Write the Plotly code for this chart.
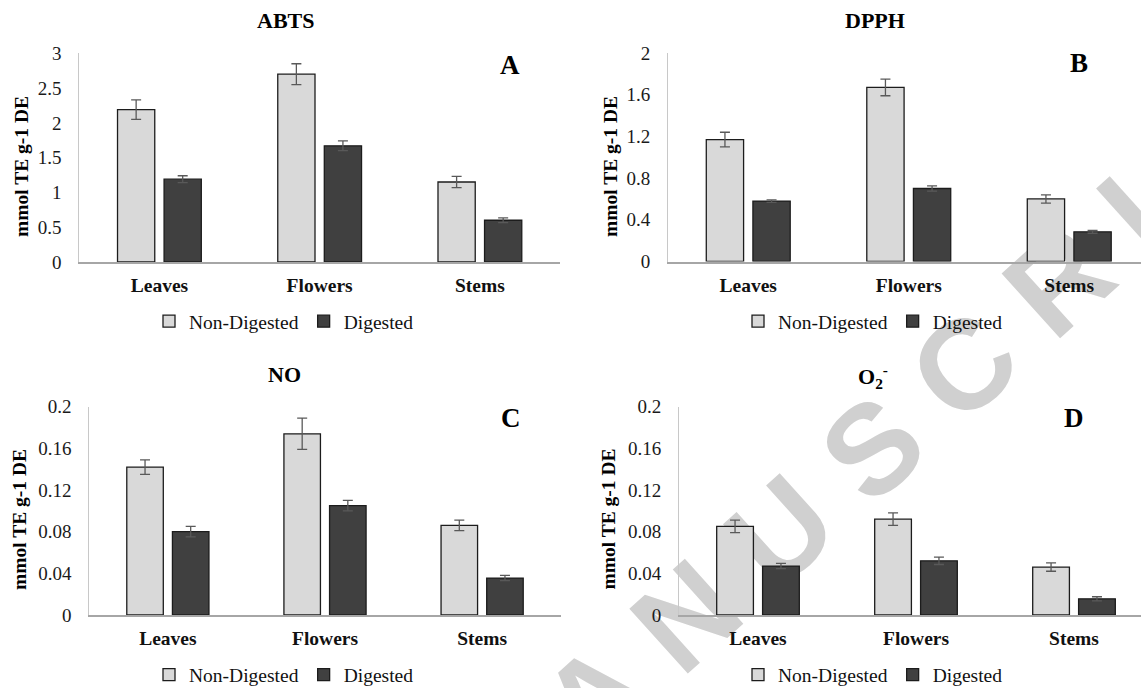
import plotly.graph_objects as go

# ---------------- data ----------------
categories = ["Leaves", "Flowers", "Stems"]
series_names = ["Non-Digested", "Digested"]

abts_nd = [2.19, 2.70, 1.15]
abts_nd_err = [0.14, 0.15, 0.08]
abts_d = [1.19, 1.67, 0.60]
abts_d_err = [0.05, 0.07, 0.035]

dpph_nd = [1.17, 1.67, 0.60]
dpph_nd_err = [0.07, 0.08, 0.04]
dpph_d = [0.58, 0.70, 0.285]
dpph_d_err = [0.012, 0.025, 0.014]

no_nd = [0.142, 0.174, 0.086]
no_nd_err = [0.007, 0.015, 0.005]
no_d = [0.080, 0.105, 0.0355]
no_d_err = [0.005, 0.005, 0.0025]

o2_nd = [0.085, 0.092, 0.046]
o2_nd_err = [0.006, 0.006, 0.004]
o2_d = [0.047, 0.052, 0.0155]
o2_d_err = [0.0025, 0.0035, 0.002]

panel_titles = ["ABTS", "DPPH", "NO", "O<sub>2</sub><sup>-</sup>"]
panel_letters = ["A", "B", "C", "D"]
y_title = "mmol TE g-1 DE"
watermark_text = "M A N U S C R I P T"

# ---------------- styling ----------------
W, H = 1141, 688
SERIF = "Liberation Serif"
C_ND = "#d9d9d9"
C_D = "#404040"
OUTLINE = "#1c1c1c"
ERR = "#595959"


def fx(px):
    return px / W


def fy(py):
    return 1 - py / H


panels = [
    dict(nd=abts_nd, nde=abts_nd_err, d=abts_d, de=abts_d_err,
         xdom=[fx(79.3), fx(560)], ydom=[fy(262), fy(53.3)],
         xr=[-0.5, 2.5], yr=[0, 3], dt=0.5,
         title=(285.5, 20), letter=(510, 65), ytitle=(21, 167), legend=(284, 321.5)),
    dict(nd=dpph_nd, nde=dpph_nd_err, d=dpph_d, de=dpph_d_err,
         xdom=[fx(668), 1.0], ydom=[fy(261.5), fy(53)],
         xr=[-0.5, 2.447], yr=[0, 2], dt=0.4,
         title=(874.5, 20), letter=(1079, 63), ytitle=(610, 167), legend=(873, 321.5)),
    dict(nd=no_nd, nde=no_nd_err, d=no_d, de=no_d_err,
         xdom=[fx(89.3), fx(560.7)], ydom=[fy(615), fy(406.7)],
         xr=[-0.5, 2.5], yr=[0, 0.2], dt=0.04,
         title=(284.5, 374.5), letter=(511, 418), ytitle=(19.5, 519.5), legend=(284, 675)),
    dict(nd=o2_nd, nde=o2_nd_err, d=o2_d, de=o2_d_err,
         xdom=[fx(679), 1.0], ydom=[fy(615), fy(406.7)],
         xr=[-0.5, 2.424], yr=[0, 0.2], dt=0.04,
         title=(873, 376), letter=(1074, 418), ytitle=(608, 519.5), legend=(873, 675)),
]

fig = go.Figure()
annotations = []
layout_axes = {}

for i, p in enumerate(panels):
    k = "" if i == 0 else str(i + 1)
    leg = "legend" if i == 0 else f"legend{i + 1}"
    for name, vals, errs, col in [(series_names[0], p["nd"], p["nde"], C_ND),
                                  (series_names[1], p["d"], p["de"], C_D)]:
        fig.add_trace(go.Bar(
            x=categories, y=vals, name=name,
            marker=dict(color=col, line=dict(color=OUTLINE, width=1.3)),
            error_y=dict(type="data", array=errs, visible=True,
                         color=ERR, thickness=1.3, width=5),
            xaxis="x" + k, yaxis="y" + k, legend=leg,
        ))
    layout_axes["xaxis" + k] = dict(
        domain=p["xdom"], anchor="y" + k, type="category", range=p["xr"],
        showline=True, linecolor="#a6a6a6", linewidth=1.5, showgrid=False,
        zeroline=False, ticks="", ticklabelstandoff=5, automargin=False,
        tickfont=dict(family=SERIF, size=19.5, color="#111111", weight="bold"),
        fixedrange=True,
    )
    layout_axes["yaxis" + k] = dict(
        domain=p["ydom"], anchor="x" + k, range=p["yr"], dtick=p["dt"], tick0=0,
        showline=True, linecolor="#c8c8c8", linewidth=1, showgrid=False,
        zeroline=False, ticks="", ticklabelstandoff=13, automargin=False,
        tickfont=dict(family=SERIF, size=19, color="#1a1a1a", weight="normal"),
        fixedrange=True,
    )
    layout_axes[leg] = dict(
        orientation="h", x=fx(p["legend"][0]), y=fy(p["legend"][1]),
        xanchor="center", yanchor="middle", bgcolor="rgba(0,0,0,0)",
        font=dict(family=SERIF, size=19.5, color="#111111", weight="normal"),
        itemwidth=30, tracegroupgap=0,
    )
    annotations.append(dict(
        text=panel_titles[i], x=fx(p["title"][0]), y=fy(p["title"][1]),
        xref="paper", yref="paper", showarrow=False, xanchor="center", yanchor="middle",
        font=dict(family=SERIF, size=22, color="#000000", weight="bold"),
    ))
    annotations.append(dict(
        text=panel_letters[i], x=fx(p["letter"][0]), y=fy(p["letter"][1]),
        xref="paper", yref="paper", showarrow=False, xanchor="center", yanchor="middle",
        font=dict(family=SERIF, size=27, color="#000000", weight="bold"),
    ))
    annotations.append(dict(
        text=y_title, x=fx(p["ytitle"][0]), y=fy(p["ytitle"][1]), textangle=-90,
        xref="paper", yref="paper", showarrow=False, xanchor="center", yanchor="middle",
        font=dict(family=SERIF, size=19.5, color="#000000", weight="bold"),
    ))

# watermark behind the plots
wm_cx, wm_cy = 880, 425
watermark = dict(
    type="rect", xref="paper", yref="paper", layer="below",
    x0=fx(wm_cx - 50), x1=fx(wm_cx + 50), y0=fy(wm_cy + 50), y1=fy(wm_cy - 50),
    line=dict(width=0), fillcolor="rgba(0,0,0,0)",
    label=dict(text=watermark_text, textangle=-42, textposition="middle center",
               font=dict(family="Liberation Sans", size=127,
                         color="#d0d0d0", weight="bold")),
)

fig.update_layout(
    width=W, height=H,
    margin=dict(l=0, r=0, t=0, b=0, pad=0, autoexpand=False),
    font=dict(family=SERIF, color="#111111"),
    paper_bgcolor="white", plot_bgcolor="rgba(0,0,0,0)",
    barmode="group", bargap=0.419, bargroupgap=0.2,
    showlegend=True, annotations=annotations, shapes=[watermark],
    **layout_axes,
)

fig.write_html(
    "out.html",
    config={"displayModeBar": False},
    post_script="document.body.style.margin='0px';document.body.style.overflow='hidden';",
)
